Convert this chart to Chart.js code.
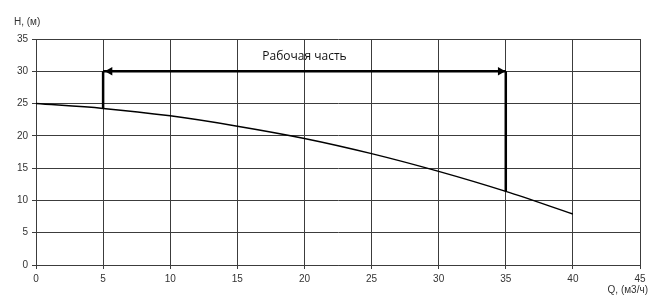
<!DOCTYPE html>
<html>
<head>
<meta charset="utf-8">
<script src="https://cdn.jsdelivr.net/npm/chart.js@4/dist/chart.umd.min.js"></script>
<style>
    html, body { margin: 0; padding: 0; background: #fff; }
    #wrap { width: 654px; height: 297px; }
</style>
</head>
<body>
<div id="wrap"><canvas id="chart" width="654" height="297"></canvas></div>
<script>
// Характеристика насоса H(Q)
const flowQ = [0, 5, 10, 15, 20, 25, 30, 35, 40];
const headH = [25, 24.25, 23.1, 21.5, 19.6, 17.25, 14.5, 11.4, 7.9];

// рабочая часть: от 5 до 35 м3/ч
const workQ = [5, 35];
const workTopH = 30;
const workBottomH = [24.25, 11.4];
const arrowQ = [5.5, 34.6];
const workLabel = 'Рабочая часть';
const workLabelPos = { x: 20, y: 32.3 };

const xTitle = 'Q, (м3/ч)';
const yTitle = 'H, (м)';

const lineColor = '#000';
const gridColor = '#3c3c3c';
const textColor = '#333';

const textPlugin = {
    id: 'texts',
    afterDraw(chart) {
        const { ctx, scales } = chart;
        ctx.save();
        ctx.fillStyle = textColor;
        ctx.font = '10px "Liberation Sans", Arial, sans-serif';
        ctx.textBaseline = 'middle';
        ctx.textAlign = 'left';
        ctx.fillText(yTitle, 14, 22);
        ctx.textAlign = 'right';
        ctx.fillText(xTitle, 648, 290);

        ctx.fillStyle = '#111';
        ctx.font = '12px "Open Sans", "Noto Sans", sans-serif';
        ctx.textAlign = 'center';
        ctx.fillText(workLabel, scales.x.getPixelForValue(workLabelPos.x), scales.y.getPixelForValue(workLabelPos.y));
        ctx.restore();
    }
};

new Chart(document.getElementById('chart'), {
    type: 'scatter',
    data: {
        datasets: [
            {
                label: 'H(Q)',
                data: flowQ.map((q, i) => ({ x: q, y: headH[i] })),
                showLine: true,
                borderColor: lineColor,
                borderWidth: 1.5,
                pointRadius: 0,
                tension: 0.4,
                cubicInterpolationMode: 'monotone',
                fill: false
            },
            {
                label: 'line',
                data: workQ.map(q => ({ x: q, y: workTopH })),
                showLine: true,
                borderColor: lineColor,
                borderWidth: 2.5,
                pointRadius: 0
            },
            {
                label: 'heads',
                data: arrowQ.map(q => ({ x: q, y: workTopH })),
                showLine: false,
                pointStyle: 'triangle',
                pointRadius: 5,
                pointRotation: [270, 90],
                pointBackgroundColor: lineColor,
                pointBorderColor: lineColor,
                pointBorderWidth: 0
            },
            {
                label: 'left',
                data: [{ x: workQ[0], y: workTopH }, { x: workQ[0], y: workBottomH[0] }],
                showLine: true,
                borderColor: lineColor,
                borderWidth: 2.5,
                pointRadius: 0
            },
            {
                label: 'right',
                data: [{ x: workQ[1], y: workTopH }, { x: workQ[1], y: workBottomH[1] }],
                showLine: true,
                borderColor: lineColor,
                borderWidth: 2.5,
                pointRadius: 0
            }
        ]
    },
    options: {
        responsive: false,
        animation: false,
        layout: { padding: { top: 39, right: 14, left: 0, bottom: 0 } },
        plugins: {
            legend: { display: false },
            tooltip: { enabled: false }
        },
        scales: {
            x: {
                type: 'linear',
                min: 0,
                max: 45,
                ticks: {
                    stepSize: 5,
                    color: textColor,
                    font: { family: '"Liberation Sans", Arial, sans-serif', size: 10 },
                    padding: 4
                },
                grid: { color: gridColor, lineWidth: 1, tickLength: 4 },
                border: { color: gridColor },
                afterFit(scale) { scale.height = 32; }
            },
            y: {
                min: 0,
                max: 35,
                ticks: {
                    stepSize: 5,
                    color: textColor,
                    font: { family: '"Liberation Sans", Arial, sans-serif', size: 10 },
                    padding: 4
                },
                grid: { color: gridColor, lineWidth: 1, tickLength: 4 },
                border: { color: gridColor },
                afterFit(scale) { scale.width = 36; }
            }
        }
    },
    plugins: [textPlugin]
});
</script>
</body>
</html>
